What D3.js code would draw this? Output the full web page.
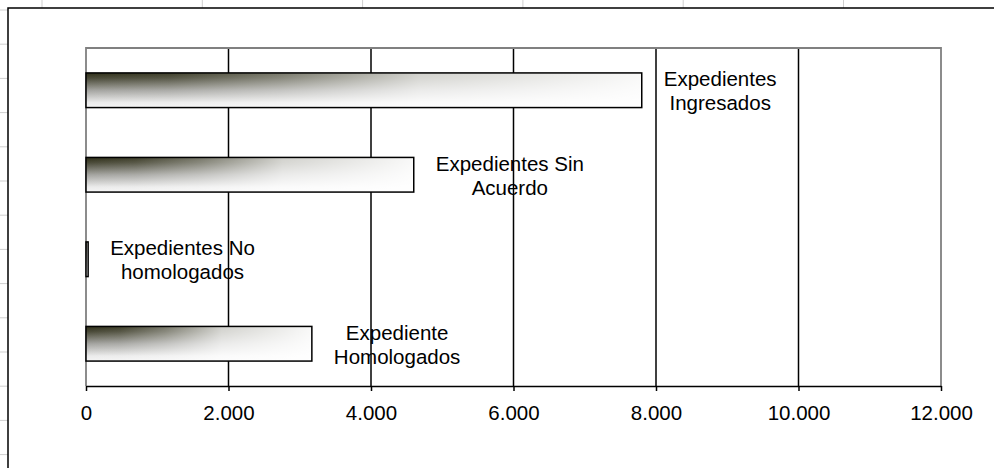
<!DOCTYPE html>
<meta charset="utf-8">
<script src="https://d3js.org/d3.v7.min.js"></script>
<style>
  body { margin: 0; background: #fff; }
  text { font-family: "Liberation Sans", Arial, sans-serif; }
</style>
<body>
<script>

// DATA

var categories = ["ingresados", "sinAcuerdo", "noHomologados", "homologados"];
var values = [7800, 4600, 30, 3170];
var labelLines = [
  ["Expedientes", "Ingresados"],
  ["Expedientes Sin", "Acuerdo"],
  ["Expedientes No", "homologados"],
  ["Expediente", "Homologados"]
];
var tickValues = [0, 2000, 4000, 6000, 8000, 10000, 12000];

var width = 994;
var height = 468;

var plot = { left: 86, top: 48, right: 941, bottom: 386 };

var svg = d3.select("body")
  .append("svg")
  .attr("width", width)
  .attr("height", height);


// SPREADSHEET BACKDROP

var sheet = svg.append("g").attr("stroke", "#cfcfcf").attr("stroke-width", 1);
for (var cx = 42; cx < width; cx += 160.3) {
  sheet.append("line").attr("x1", cx).attr("x2", cx).attr("y1", 0).attr("y2", height);
}
for (var ry = 10; ry < height; ry += 34.2) {
  sheet.append("line").attr("x1", 0).attr("x2", width).attr("y1", ry).attr("y2", ry);
}

// chart area box (runs off the right and bottom)
svg.append("rect")
  .attr("x", 8)
  .attr("y", 8)
  .attr("width", width + 20)
  .attr("height", height + 20)
  .attr("fill", "#fff")
  .attr("stroke", "#000")
  .attr("stroke-width", 1.5);


// GRADIENTS: dark top fading down, washed out towards the right

var defs = svg.append("defs");

var vGrad = defs.append("linearGradient")
  .attr("id", "barV")
  .attr("x1", 0).attr("y1", 0)
  .attr("x2", 0).attr("y2", 1);

vGrad.selectAll("stop")
  .data([
    [0, "#2e2e18"],
    [0.15, "#4a4a38"],
    [0.5, "#a4a4a0"],
    [0.85, "#ebebeb"],
    [1, "#f5f5f5"]
  ])
  .enter().append("stop")
  .attr("offset", function (d) { return d[0]; })
  .attr("stop-color", function (d) { return d[1]; });

var hGrad = defs.append("linearGradient")
  .attr("id", "barH")
  .attr("x1", 0).attr("y1", 0)
  .attr("x2", 1).attr("y2", 0);

hGrad.selectAll("stop")
  .data([
    [0, 0],
    [0.15, 0.08],
    [0.35, 0.35],
    [0.6, 0.78],
    [1, 0.97]
  ])
  .enter().append("stop")
  .attr("offset", function (d) { return d[0]; })
  .attr("stop-color", "#fff")
  .attr("stop-opacity", function (d) { return d[1]; });


// SCALES

var xScale = d3.scaleLinear()
  .domain([0, 12000])
  .range([plot.left, plot.right]);

var yScale = d3.scaleBand()
  .domain(categories)
  .range([plot.top, plot.bottom]);

var barH = yScale.bandwidth() * 0.41;


// GRIDLINES + FRAME

svg.append("g")
  .selectAll("line")
  .data(tickValues.slice(1, -1))
  .enter().append("line")
  .attr("x1", function (d) { return xScale(d); })
  .attr("x2", function (d) { return xScale(d); })
  .attr("y1", plot.top)
  .attr("y2", plot.bottom)
  .attr("stroke", "#000")
  .attr("stroke-width", 1.5);

svg.append("path")
  .attr("d", "M" + plot.left + "," + plot.bottom + "V" + plot.top + "H" + plot.right + "V" + plot.bottom)
  .attr("fill", "none")
  .attr("stroke", "#808080")
  .attr("stroke-width", 1.8);


// BARS

var bars = svg.append("g")
  .selectAll("g")
  .data(values)
  .enter().append("g");

var barY = function (d, i) { return yScale(categories[i]) + (yScale.bandwidth() - barH) / 2; };
var barW = function (d) { return xScale(d) - xScale(0); };

bars.append("rect")
  .attr("x", xScale(0))
  .attr("y", barY)
  .attr("width", barW)
  .attr("height", barH)
  .attr("fill", "url(#barV)");

bars.append("rect")
  .attr("x", xScale(0))
  .attr("y", barY)
  .attr("width", barW)
  .attr("height", barH)
  .attr("fill", "url(#barH)")
  .attr("stroke", "#000")
  .attr("stroke-width", 1.5);


// X AXIS

var xAxis = svg.append("g")
  .attr("transform", "translate(0," + plot.bottom + ")")
  .call(d3.axisBottom(xScale)
    .tickValues(tickValues)
    .tickSize(5)
    .tickSizeOuter(0)
    .tickPadding(14)
    .tickFormat(function (d) { return d3.format(",")(d).replace(/,/g, "."); }));

xAxis.select(".domain").attr("stroke", "#000").attr("stroke-width", 1.5);
xAxis.selectAll(".tick line").attr("stroke", "#000").attr("stroke-width", 1.5);
xAxis.selectAll(".tick text")
  .attr("fill", "#000")
  .style("font-size", "20.5px")
  .attr("dy", "0.71em");


// DATA LABELS

values.forEach(function (v, i) {
  var cy = yScale(categories[i]) + yScale.bandwidth() / 2;
  var g = svg.append("g");
  var lines = labelLines[i].map(function (s, k) {
    return g.append("text")
      .attr("y", cy - 4 + k * 24)
      .attr("text-anchor", "middle")
      .style("font-size", "20.5px")
      .attr("fill", "#000")
      .text(s);
  });
  var maxW = d3.max(lines, function (t) { return t.node().getComputedTextLength(); });
  var cx = xScale(v) + 22 + maxW / 2;
  lines.forEach(function (t) { t.attr("x", cx); });
});

</script>
</body>
